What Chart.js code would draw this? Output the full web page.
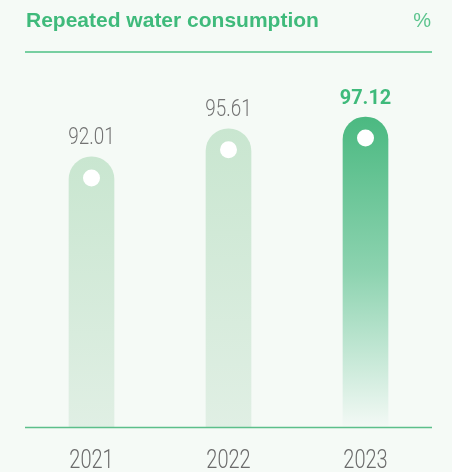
<!DOCTYPE html>
<html>
<head>
<meta charset="utf-8">
<script src="https://cdn.jsdelivr.net/npm/chart.js@4.4.0/dist/chart.umd.min.js"></script>
<style>
  html, body { margin: 0; padding: 0; background: #f5faf6; }
  #wrap { width: 452px; height: 472px; position: relative; }
</style>
</head>
<body>
<div id="wrap"><canvas id="chart" width="452" height="472"></canvas></div>
<script>
  const years = ["2021", "2022", "2023"];
  const values = [92.01, 95.61, 97.12];
  const title = "Repeated water consumption";
  const unit = "%";

  const green = "#3fba7b";

  // gradient per bar, last one is the highlighted year
  function barFill(ctx) {
    const chart = ctx.chart;
    const area = chart.chartArea;
    const y = chart.scales.y;
    if (!area || !y) return "#cbe7d3";
    let top = y.getPixelForValue(values[ctx.dataIndex]);
    if (!isFinite(top) || !isFinite(area.bottom) || top >= area.bottom) return "#cbe7d3";
    const g = chart.ctx.createLinearGradient(0, top, 0, area.bottom);
    if (ctx.dataIndex === values.length - 1) {
      g.addColorStop(0, "#4bb981");
      g.addColorStop(0.5, "#8dd3b0");
      g.addColorStop(1, "#f3f9f5");
    } else {
      g.addColorStop(0, "#c9e6d0");
      g.addColorStop(1, "#e0efe4");
    }
    return g;
  }

  // narrow-looking text: squeeze horizontally
  function squeezed(c, text, x, y, sx) {
    c.save();
    c.translate(x, y);
    c.scale(sx, 1);
    c.fillText(text, 0, 0);
    c.restore();
  }

  const decorations = {
    id: "decorations",
    afterDatasetsDraw(chart) {
      const c = chart.ctx;
      const meta = chart.getDatasetMeta(0);
      const xs = chart.scales.x;
      const bottom = chart.chartArea.bottom;
      c.save();
      // header
      c.fillStyle = green;
      c.font = "bold 21px 'Liberation Sans', Arial, sans-serif";
      c.textBaseline = "alphabetic";
      c.textAlign = "left";
      c.fillText(title, 26, 27);
      c.fillStyle = "#5cc48e";
      c.font = "20px 'Liberation Sans', Arial, sans-serif";
      c.textAlign = "right";
      c.fillText(unit, 431, 27);
      c.strokeStyle = "#4cc085";
      c.lineWidth = 1.5;
      c.beginPath();
      c.moveTo(25, 52);
      c.lineTo(432, 52);
      c.stroke();

      // baseline
      c.strokeStyle = "#5cbf8a";
      c.beginPath();
      c.moveTo(25, bottom + 0.5);
      c.lineTo(432, bottom + 0.5);
      c.stroke();

      c.textAlign = "center";
      meta.data.forEach((bar, i) => {
        // white dot in the rounded cap
        c.fillStyle = "#ffffff";
        c.beginPath();
        c.arc(bar.x, bar.y + 21, 8.5, 0, Math.PI * 2);
        c.fill();
        // value label
        if (i === values.length - 1) {
          c.fillStyle = green;
          c.font = "bold 21px Roboto, sans-serif";
          squeezed(c, values[i].toFixed(2), bar.x, bar.y - 13, 0.95);
        } else {
          c.fillStyle = "#737373";
          c.font = "300 23px Roboto, sans-serif";
          squeezed(c, values[i].toFixed(2), bar.x, bar.y - 13, 0.82);
        }
      });

      // year labels under the axis
      c.fillStyle = "#6b6b6b";
      c.font = "300 25px Roboto, sans-serif";
      years.forEach((yr, i) => {
        squeezed(c, yr, xs.getPixelForValue(i), 468, 0.8);
      });
      c.restore();
    }
  };

  new Chart(document.getElementById("chart"), {
    type: "bar",
    data: {
      labels: years,
      datasets: [{
        data: values,
        backgroundColor: barFill,
        barThickness: 45,
        borderRadius: { topLeft: 22.5, topRight: 22.5 },
        borderSkipped: "bottom"
      }]
    },
    options: {
      responsive: false,
      animation: false,
      layout: { padding: { top: 60, left: 23, right: 18, bottom: 45 } },
      plugins: { legend: { display: false }, tooltip: { enabled: false } },
      scales: {
        x: {
          grid: { display: false, drawTicks: false },
          border: { display: false },
          ticks: { display: false }
        },
        y: { display: false, min: 57.5, max: 104.4 }
      }
    },
    plugins: [decorations]
  });
</script>
</body>
</html>
